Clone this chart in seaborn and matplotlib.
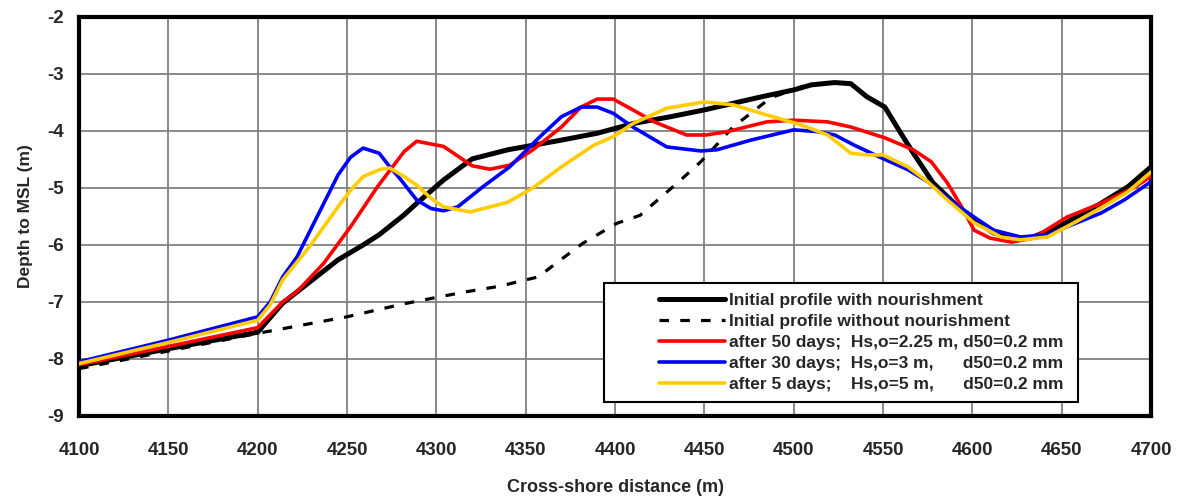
import numpy as np
import pandas as pd
import matplotlib
matplotlib.use('Agg')
import matplotlib.pyplot as plt
from matplotlib.patches import Rectangle
import seaborn as sns

# Dados (distância em m, profundidade em m)
black_x = [4100, 4150, 4200, 4214, 4245, 4259, 4268, 4282, 4289, 4304, 4320, 4340, 4370, 4390, 4410,
           4431, 4450, 4482, 4500, 4510, 4523, 4532, 4541, 4551, 4560, 4567, 4578, 4590, 4601, 4612,
           4627, 4634, 4650, 4672, 4687, 4700]
black_y = [-8.12, -7.82, -7.53, -7.02, -6.26, -6.0, -5.82, -5.47, -5.27, -4.86, -4.49, -4.33, -4.16,
           -4.04, -3.87, -3.75, -3.63, -3.40, -3.28, -3.19, -3.15, -3.17, -3.40, -3.58, -4.04, -4.39,
           -4.91, -5.27, -5.56, -5.79, -5.88, -5.86, -5.65, -5.27, -4.98, -4.63]

dashed_x = [4100, 4150, 4200, 4250, 4282, 4315, 4336, 4345, 4357, 4373, 4382, 4401, 4414, 4425, 4435,
            4448, 4457, 4466, 4476, 4487, 4510]
dashed_y = [-8.17, -7.86, -7.55, -7.26, -7.03, -6.83, -6.72, -6.65, -6.56, -6.18, -5.97, -5.62, -5.48,
            -5.18, -4.91, -4.54, -4.24, -3.93, -3.69, -3.42, -3.16]

red_x = [4100, 4150, 4200, 4214, 4222, 4237, 4252, 4267, 4282, 4289, 4304, 4320, 4330, 4341, 4354,
         4370, 4381, 4390, 4399, 4410, 4422, 4440, 4451, 4463, 4485, 4500, 4519, 4532, 4551, 4567,
         4577, 4586, 4594, 4601, 4610, 4622, 4634, 4653, 4672, 4690, 4700]
red_y = [-8.1, -7.78, -7.45, -7.0, -6.82, -6.32, -5.68, -4.98, -4.36, -4.18, -4.27, -4.61, -4.67, -4.6,
         -4.33, -3.93, -3.58, -3.44, -3.44, -3.63, -3.84, -4.07, -4.07, -4.01, -3.84, -3.81, -3.84,
         -3.93, -4.12, -4.33, -4.54, -4.91, -5.33, -5.74, -5.88, -5.95, -5.88, -5.51, -5.27, -5.0, -4.8]

blue_x = [4100, 4150, 4200, 4207, 4214, 4222, 4229, 4245, 4252, 4259, 4268, 4274, 4280, 4289, 4297,
          4304, 4312, 4326, 4341, 4358, 4370, 4381, 4390, 4399, 4410, 4429, 4448, 4457, 4476, 4500,
          4513, 4523, 4534, 4549, 4564, 4575, 4590, 4601, 4612, 4627, 4642, 4653, 4672, 4685, 4700]
blue_y = [-8.05, -7.67, -7.26, -7.0, -6.56, -6.21, -5.77, -4.77, -4.46, -4.3, -4.39, -4.63, -4.85,
          -5.21, -5.36, -5.4, -5.33, -4.98, -4.63, -4.1, -3.75, -3.58, -3.58, -3.69, -3.93, -4.28,
          -4.35, -4.33, -4.16, -3.98, -4.01, -4.07, -4.25, -4.47, -4.68, -4.89, -5.27, -5.51, -5.74,
          -5.86, -5.82, -5.68, -5.44, -5.21, -4.89]

yellow_x = [4100, 4150, 4200, 4207, 4214, 4229, 4245, 4252, 4259, 4269, 4274, 4282, 4289, 4297, 4304,
            4319, 4340, 4354, 4370, 4388, 4399, 4410, 4429, 4450, 4466, 4485, 4504, 4519, 4532, 4541,
            4550, 4564, 4575, 4586, 4601, 4616, 4627, 4642, 4657, 4672, 4687, 4700]
yellow_y = [-8.08, -7.71, -7.32, -7.05, -6.61, -6.03, -5.33, -5.04, -4.8, -4.67, -4.65, -4.8, -4.95,
            -5.18, -5.33, -5.42, -5.25, -5.0, -4.63, -4.25, -4.1, -3.87, -3.6, -3.49, -3.54, -3.72,
            -3.89, -4.07, -4.39, -4.42, -4.42, -4.63, -4.89, -5.21, -5.61, -5.86, -5.91, -5.86, -5.61,
            -5.35, -5.07, -4.72]

labels = ['Initial profile with nourishment',
          'Initial profile without nourishment',
          'after 50 days;  Hs,o=2.25 m, d50=0.2 mm',
          'after 30 days;  Hs,o=3 m,      d50=0.2 mm',
          'after 5 days;    Hs,o=5 m,      d50=0.2 mm']

sns.set_style('white')
plt.rcParams['font.family'] = ['Liberation Sans', 'DejaVu Sans']
plt.rcParams['font.weight'] = 'bold'
plt.rcParams['axes.unicode_minus'] = False

fig = plt.figure(figsize=(11.81, 4.97), dpi=100)
ax = fig.add_axes([0.0669, 0.163, 0.9077, 0.8028])

sns.lineplot(x=black_x, y=black_y, ax=ax, color='black', lw=3.6, label=labels[0], sort=False, zorder=3)
sns.lineplot(x=dashed_x, y=dashed_y, ax=ax, color='black', lw=2.3, label=labels[1], sort=False,
             dashes=False, linestyle=(0, (3, 3.5)), zorder=2)
sns.lineplot(x=red_x, y=red_y, ax=ax, color='#ff0000', lw=2.6, label=labels[2], sort=False, zorder=4)
sns.lineplot(x=blue_x, y=blue_y, ax=ax, color='#0000ff', lw=2.6, label=labels[3], sort=False, zorder=4)
sns.lineplot(x=yellow_x, y=yellow_y, ax=ax, color='#ffcc00', lw=2.6, label=labels[4], sort=False, zorder=5)

ax.set_xlim(4100, 4700)
ax.set_ylim(-9, -2)
ax.set_xticks(np.arange(4100, 4701, 50))
ax.set_yticks(np.arange(-9, -1, 1))
ax.grid(True, color='#808080', lw=1.3)
ax.set_axisbelow(True)
for s in ax.spines.values():
    s.set_color('black')
    s.set_linewidth(3)
ax.tick_params(direction='out', length=5, width=1, color='black', labelsize=13.5, pad=14)
ax.tick_params(axis='y', pad=6)
for t in ax.get_xticklabels() + ax.get_yticklabels():
    t.set_fontweight('bold')

ax.set_xlabel('Cross-shore distance (m)', fontsize=13, fontweight='bold', labelpad=14)
ax.set_ylabel('Depth to MSL (m)', fontsize=12.5, fontweight='bold', labelpad=10)

# caixa da legenda (mais larga que o conteúdo, como no original)
box = Rectangle((0.4897, 0.0351), 0.442, 0.298, transform=ax.transAxes, facecolor='white',
                edgecolor='black', lw=1.5, zorder=9)
ax.add_patch(box)
leg = ax.legend(loc='center', bbox_to_anchor=(0.7295, 0.184), fontsize=12.5, frameon=False,
                handlelength=3.8, handletextpad=0.25, borderpad=0, labelspacing=0.33,
                borderaxespad=0)
leg.set_zorder(10)
for t in leg.get_texts():
    t.set_fontweight('bold')

plt.savefig('out.png', dpi=100)
